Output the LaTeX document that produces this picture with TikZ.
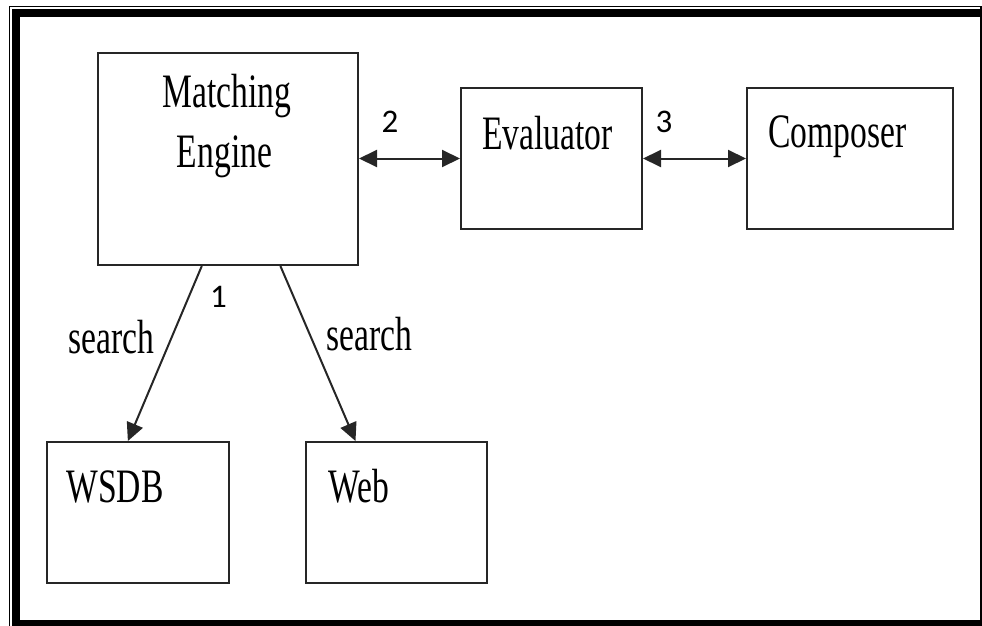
\documentclass[tikz,border=0pt]{standalone}
\usepackage{fontspec}
\newfontfamily\boxfont[FakeStretch=0.7]{Liberation Serif}
\newfontfamily\numfont{Carlito}
\usetikzlibrary{arrows.meta,calc}
\begin{document}
\begin{tikzpicture}[x=1pt,y=-1pt,
  box/.style={draw=black!85,line width=2pt,minimum width=#1,inner sep=0pt,fill=white},
  lbl/.style={inner sep=0pt,anchor=base,font=\boxfont\fontsize{48}{56}\selectfont},
  num/.style={inner sep=0pt,anchor=base,font=\numfont\fontsize{33}{38}\selectfont},
  conn/.style={line width=2pt,draw=black!85},
  tip/.style={-{Triangle[length=18pt,width=17pt]}},
  dtip/.style={{Triangle[length=18pt,width=17pt]}-{Triangle[length=18pt,width=17pt]}}]
\useasboundingbox (0,0) rectangle (982,626);
\clip (0,0) rectangle (982,626);
\draw[line width=1.2pt] (9.5,6.5) rectangle (981,640);
\draw[line width=8pt] (16,13.5) rectangle (995,624);

\node[box=260pt,minimum height=212pt] (me) at (228,159) {};
\node[box=181pt,minimum height=141pt] (ev) at (551.5,158.5) {};
\node[box=206pt,minimum height=141pt] (co) at (850,158.5) {};
\node[box=182pt,minimum height=141pt] (ws) at (138,512.5) {};
\node[box=181pt,minimum height=141pt] (wb) at (396.5,512.5) {};

\node[lbl] (t1) at (227,107) {Matching};
\node[lbl] (t2) at (224.5,167) {Engine};
\node[lbl] (t3) at (547.5,149) {Evaluator};
\node[lbl] (t4) at (837.5,147) {Composer};
\node[lbl] (t5) at (115,502) {WSDB};
\node[lbl] (t6) at (358.5,502) {Web};
\node[lbl] (s1) at (111,353) {search};
\node[lbl] (s2) at (369.5,350) {search};

\node[num] (n1) at (218.5,307) {1};
\node[num] (n2) at (390,132) {2};
\node[num] (n3) at (664,132) {3};

\draw[conn,dtip] (me.east |- ev.west) -- (ev.west);
\draw[conn,dtip] (ev.east) -- (co.west);
\draw[conn,tip] ($(me.south west)!0.4!(me.south east)$) -- ($(ws.north west)!0.445!(ws.north east)$);
\draw[conn,tip] ($(me.south west)!0.7!(me.south east)$) -- ($(wb.north west)!0.276!(wb.north east)$);
\end{tikzpicture}
\end{document}
